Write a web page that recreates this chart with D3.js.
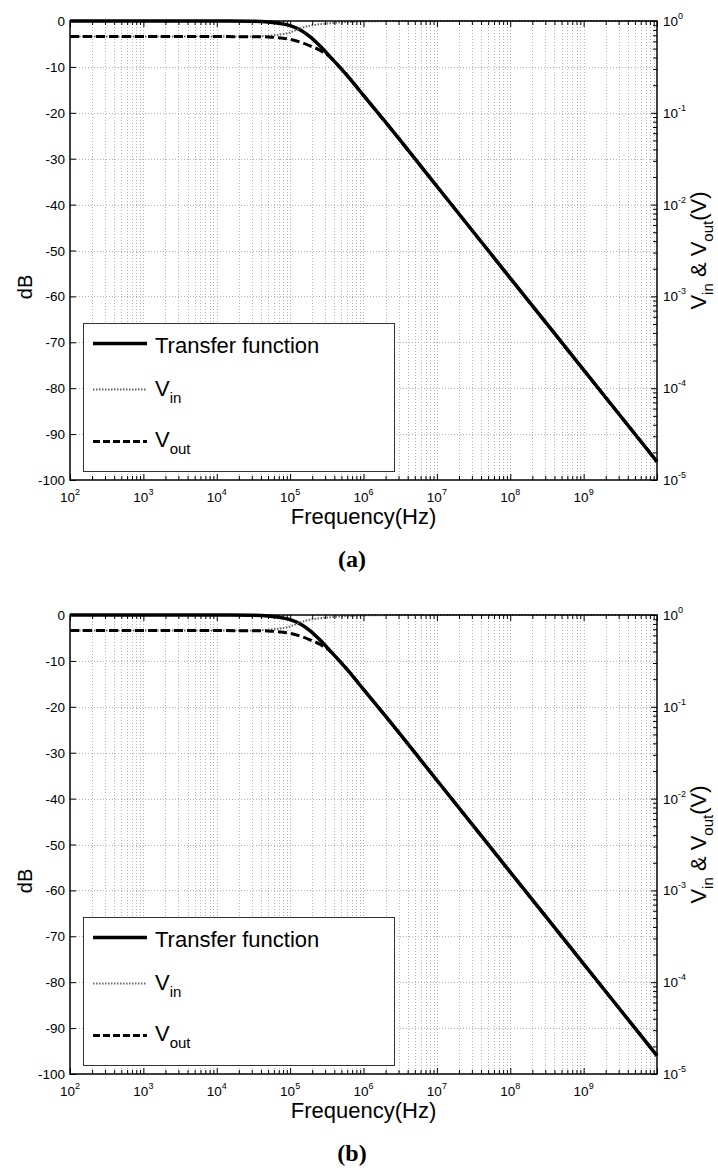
<!DOCTYPE html>
<html>
<head>
<meta charset="utf-8">
<script src="https://cdn.jsdelivr.net/npm/d3@7"></script>
<style>
  body { margin: 0; background: #fff; }
  svg { display: block; font-family: "Liberation Sans", Arial, sans-serif; }
</style>
</head>
<body>
<svg id="fig" width="718" height="1168"></svg>
<script>
// Transfer function magnitude (dB) against frequency (Hz)
const tfFreq = [1e2, 1e3, 1e4, 3e4, 5e4, 7e4, 1e5, 1.4e5, 1.86e5, 2.5e5, 3.47e5, 4.7e5, 6.46e5, 1e6, 2e6, 1e7, 1e8, 1e9, 1e10];
const tfDb   = [0, 0, 0, -0.05, -0.2, -0.5, -1.0, -2.0, -3.4, -5.3, -7.7, -10.0, -12.5, -16.2, -22.05, -36, -56, -76, -96];

// Input voltage amplitude (V)
const vinFreq = [1e2, 1e4, 3e4, 5e4, 7e4, 1e5, 1.37e5, 1.86e5, 2.5e5, 3.47e5, 6.46e5, 1e6, 2e6, 1e7, 1e10];
const vinVolt = [0.676, 0.676, 0.68, 0.69, 0.71, 0.75, 0.83, 0.89, 0.92, 0.945, 0.977, 0.99, 0.997, 1.0, 1.0];

// Output voltage amplitude (V)
const voutFreq = [1e2, 1e4, 3e4, 5e4, 7e4, 1e5, 1.37e5, 1.86e5, 2.5e5, 3.47e5, 4.7e5, 6.46e5, 1e6, 2e6, 1e7, 1e8, 1e9, 1e10];
const voutVolt = [0.676, 0.676, 0.675, 0.67, 0.655, 0.631, 0.589, 0.537, 0.484, 0.407, 0.318, 0.238, 0.155, 0.0789, 0.0158, 0.00158, 0.000158, 0.0000158];

// Axis ticks
const dbTicks = [0, -10, -20, -30, -40, -50, -60, -70, -80, -90, -100];
const freqDecades = [1e2, 1e3, 1e4, 1e5, 1e6, 1e7, 1e8, 1e9, 1e10];
const freqLabelExp = [2, 3, 4, 5, 6, 7, 8, 9];
const voltDecades = [1e0, 1e-1, 1e-2, 1e-3, 1e-4, 1e-5];
const voltLabelExp = [0, -1, -2, -3, -4, -5];
const panelLabels = ["(a)", "(b)"];

const svg = d3.select("#fig");
const L = 70, R = 657, PH = 459;
const panelTops = [21, 615];

// minor log ticks (2..9 in each decade)
const freqMinor = [];
freqDecades.slice(0, -1).forEach(d => { for (let k = 2; k <= 9; k++) freqMinor.push(d * k); });
const voltMinor = [];
voltDecades.slice(1).forEach(d => { for (let k = 2; k <= 9; k++) voltMinor.push(d * k); });

function drawPanel(top, label) {
  const bottom = top + PH;
  const x = d3.scaleLog().domain([1e2, 1e10]).range([L, R]);
  const yL = d3.scaleLinear().domain([-100, 0]).range([bottom, top]);
  const yR = d3.scaleLog().domain([1e-5, 1]).range([bottom, top]);
  const g = svg.append("g");

  // dotted grid
  const grid = g.append("g").attr("stroke", "#b4b4b4").attr("stroke-width", 1).attr("stroke-dasharray", "1,2");
  grid.selectAll("line.v").data(freqMinor.concat(freqDecades.slice(1, -1))).join("line")
    .attr("class", "v")
    .attr("x1", d => Math.round(x(d)) + 0.5).attr("x2", d => Math.round(x(d)) + 0.5)
    .attr("y1", top).attr("y2", bottom);
  grid.selectAll("line.h").data(dbTicks.slice(1, -1)).join("line")
    .attr("class", "h")
    .attr("x1", L).attr("x2", R)
    .attr("y1", d => Math.round(yL(d)) + 0.5).attr("y2", d => Math.round(yL(d)) + 0.5);

  // curves
  const tfLine = d3.line().x(d => x(d[0])).y(d => yL(d[1])).curve(d3.curveMonotoneX);
  const vLine = d3.line().x(d => x(d[0])).y(d => yR(d[1])).curve(d3.curveMonotoneX);

  g.append("path").datum(d3.zip(tfFreq, tfDb)).attr("d", tfLine)
    .attr("fill", "none").attr("stroke", "#000").attr("stroke-width", 3.5);
  g.append("path").datum(d3.zip(vinFreq, vinVolt)).attr("d", vLine)
    .attr("fill", "none").attr("stroke", "#666").attr("stroke-width", 2).attr("stroke-dasharray", "1.5,1.5");
  g.append("path").datum(d3.zip(voutFreq, voutVolt)).attr("d", vLine)
    .attr("fill", "none").attr("stroke", "#000").attr("stroke-width", 3).attr("stroke-dasharray", "9,4");

  // legend
  const lg = g.append("g").attr("transform", `translate(83,${top + 302})`);
  lg.append("rect").attr("x", 0.5).attr("y", 0.5).attr("width", 311).attr("height", 148)
    .attr("fill", "#fff").attr("stroke", "#333").attr("stroke-width", 1);
  lg.append("line").attr("x1", 10).attr("x2", 64).attr("y1", 20.5).attr("y2", 20.5)
    .attr("stroke", "#000").attr("stroke-width", 3.5);
  lg.append("line").attr("x1", 10).attr("x2", 64).attr("y1", 66.5).attr("y2", 66.5)
    .attr("stroke", "#666").attr("stroke-width", 2).attr("stroke-dasharray", "1.5,1.5");
  lg.append("line").attr("x1", 10).attr("x2", 64).attr("y1", 118.5).attr("y2", 118.5)
    .attr("stroke", "#000").attr("stroke-width", 3).attr("stroke-dasharray", "7,3");
  lg.append("text").attr("x", 72).attr("y", 30).attr("font-size", 22).text("Transfer function");
  const t1 = lg.append("text").attr("x", 72).attr("y", 73).attr("font-size", 22);
  t1.append("tspan").text("V");
  t1.append("tspan").attr("font-size", 15).attr("dy", 7).text("in");
  const t2 = lg.append("text").attr("x", 72).attr("y", 124).attr("font-size", 22);
  t2.append("tspan").text("V");
  t2.append("tspan").attr("font-size", 15).attr("dy", 7).text("out");

  // ticks (inward)
  const tickStyle = s => { s.select(".domain").remove(); s.selectAll("line").attr("stroke", "#000"); };
  g.append("g").attr("transform", `translate(0,${bottom})`)
    .call(d3.axisBottom(x).tickValues(freqDecades).tickSize(-6).tickFormat("")).call(tickStyle);
  g.append("g").attr("transform", `translate(0,${bottom})`)
    .call(d3.axisBottom(x).tickValues(freqMinor).tickSize(-4).tickFormat("")).call(tickStyle);
  g.append("g").attr("transform", `translate(0,${top})`)
    .call(d3.axisTop(x).tickValues(freqDecades).tickSize(-6).tickFormat("")).call(tickStyle);
  g.append("g").attr("transform", `translate(0,${top})`)
    .call(d3.axisTop(x).tickValues(freqMinor).tickSize(-4).tickFormat("")).call(tickStyle);
  g.append("g").attr("transform", `translate(${L},0)`)
    .call(d3.axisLeft(yL).tickValues(dbTicks).tickSize(-6).tickFormat("")).call(tickStyle);
  g.append("g").attr("transform", `translate(${R},0)`)
    .call(d3.axisRight(yR).tickValues(voltDecades).tickSize(-6).tickFormat("")).call(tickStyle);
  g.append("g").attr("transform", `translate(${R},0)`)
    .call(d3.axisRight(yR).tickValues(voltMinor).tickSize(-4).tickFormat("")).call(tickStyle);

  // axes box
  g.append("rect").attr("x", L).attr("y", top).attr("width", R - L).attr("height", PH)
    .attr("fill", "none").attr("stroke", "#000").attr("stroke-width", 1.5);

  // tick labels
  g.append("g").selectAll("text").data(dbTicks).join("text")
    .attr("x", L - 5).attr("y", d => yL(d) + 5).attr("text-anchor", "end")
    .attr("font-size", 13.5).text(d => d);
  const xl = g.append("g").selectAll("text").data(freqLabelExp).join("text")
    .attr("x", d => x(Math.pow(10, d))).attr("y", bottom + 22).attr("text-anchor", "middle")
    .attr("font-size", 13.5);
  xl.append("tspan").text("10");
  xl.append("tspan").attr("font-size", 9).attr("dy", -7).text(d => d);
  const yrl = g.append("g").selectAll("text").data(voltLabelExp).join("text")
    .attr("x", R + 6).attr("y", d => yR(Math.pow(10, d)) + 5).attr("font-size", 13.5);
  yrl.append("tspan").text("10");
  yrl.append("tspan").attr("font-size", 9).attr("dy", -7).text(d => d);

  // axis titles
  g.append("text").attr("x", (L + R) / 2).attr("y", bottom + 44).attr("text-anchor", "middle")
    .attr("font-size", 22).text("Frequency(Hz)");
  g.append("text").attr("transform", `translate(32,${top + 266}) rotate(-90)`)
    .attr("text-anchor", "middle").attr("font-size", 20).text("dB");
  const rt = g.append("text").attr("transform", `translate(706,${(top + bottom) / 2}) rotate(-90)`)
    .attr("text-anchor", "middle").attr("font-size", 22);
  rt.append("tspan").text("V");
  rt.append("tspan").attr("font-size", 15).attr("dy", 7).text("in");
  rt.append("tspan").attr("dy", -7).text(" & V");
  rt.append("tspan").attr("font-size", 15).attr("dy", 7).text("out");
  rt.append("tspan").attr("dy", -7).text("(V)");

  // panel caption
  g.append("text").attr("x", 352).attr("y", bottom + 87).attr("text-anchor", "middle")
    .attr("font-family", "'Liberation Serif', 'Times New Roman', serif")
    .attr("font-weight", "bold").attr("font-size", 24).text(label);
}

panelTops.forEach((t, i) => drawPanel(t, panelLabels[i]));
</script>
</body>
</html>
